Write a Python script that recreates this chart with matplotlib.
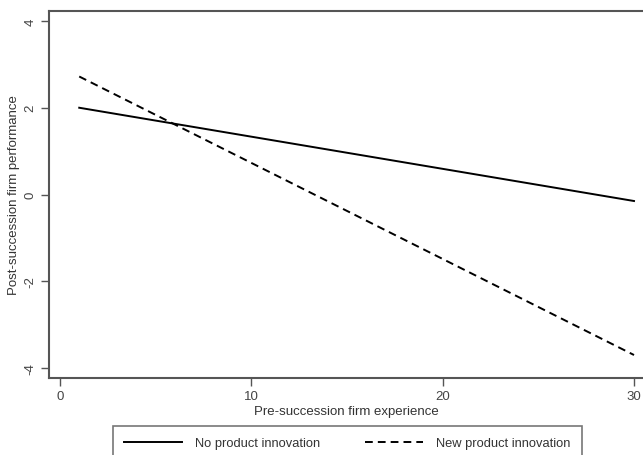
import matplotlib
matplotlib.use("Agg")
import matplotlib.pyplot as plt

plt.rcParams['font.family'] = ['Liberation Sans', 'DejaVu Sans']

# firm experience vs predicted performance
experience = [1, 30]
no_innovation = [2.0, -0.15]
new_innovation = [2.72, -3.7]

xticks = [0, 10, 20, 30]
yticks = [-4, -2, 0, 2, 4]

grey = '#555555'
fig = plt.figure(figsize=(6.43, 4.56), dpi=100)
ax = fig.add_axes([49/643, 77/456, 1 - 49/643, (379 - 12)/456])

ax.plot(experience, no_innovation, color='black', lw=1.4, ls='-', label='No product innovation')
ax.plot(experience, new_innovation, color='black', lw=1.4, ls=(0, (4, 2.6)), label='New product innovation')

ax.set_xlim(-0.58, 30.47)
ax.set_ylim(-4.23, 4.23)
ax.set_xticks(xticks)
ax.set_yticks(yticks)
ax.set_yticklabels([str(t) for t in yticks], rotation=90, va='center')

for s in ['left', 'bottom', 'top']:
    ax.spines[s].set_color(grey)
    ax.spines[s].set_linewidth(1.5)
ax.spines['right'].set_visible(False)
ax.tick_params(colors=grey, labelcolor='#444444', length=6, width=1, labelsize=9.5, direction='out', pad=3)
ax.tick_params(axis='y', pad=3)

ax.set_xlabel('Pre-succession firm experience', fontsize=9.5, color='#333333', labelpad=2)
ax.set_ylabel('Post-succession firm performance', fontsize=9.5, color='#333333', labelpad=3)

leg = fig.legend(loc='upper left', bbox_to_anchor=(113/643, 1 - 427/456),
                 ncol=2, fontsize=9.3, handlelength=4.5, handletextpad=1.0, frameon=True,
                 fancybox=False, borderaxespad=0, borderpad=0.85, columnspacing=3.5)
leg.get_frame().set_edgecolor(grey)
leg.get_frame().set_linewidth(1.2)
for t in leg.get_texts():
    t.set_color('#333333')

fig.savefig('out.png', dpi=100)
